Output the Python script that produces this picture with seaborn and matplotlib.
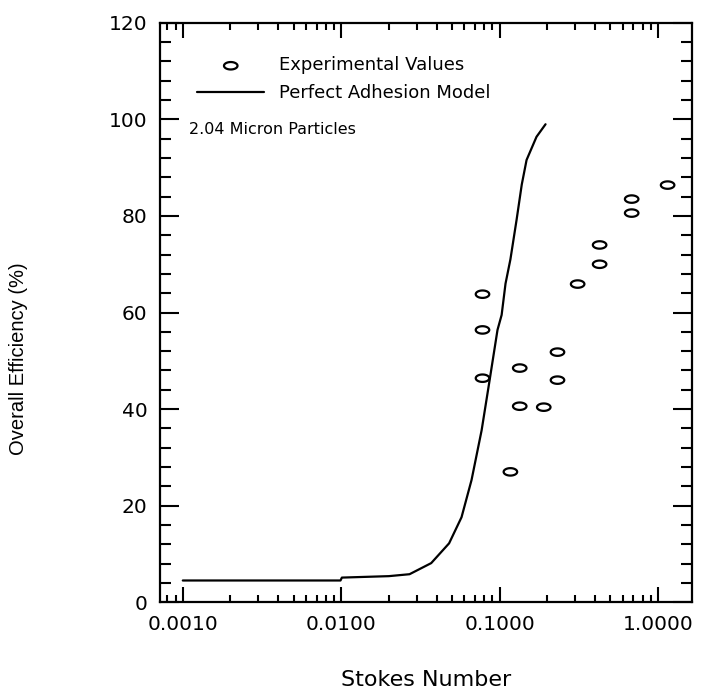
import numpy as np
import matplotlib
matplotlib.use("Agg")
import matplotlib.pyplot as plt
from matplotlib.path import Path
from matplotlib.ticker import FixedLocator, LogLocator, MultipleLocator, NullFormatter
import seaborn as sns


# Perfect adhesion model curve
model_stokes = [0.001, 0.0099, 0.0101, 0.02, 0.027, 0.037, 0.048, 0.0575, 0.0665,
                0.077, 0.0865, 0.097, 0.103, 0.109, 0.117, 0.128, 0.138, 0.148,
                0.171, 0.195]
model_eff = [4.5, 4.5, 5.1, 5.4, 5.8, 8.1, 12.2, 17.6, 25.3,
             35.6, 46.0, 56.4, 59.5, 66.0, 71.0, 79.2, 86.5, 91.6,
             96.4, 99.0]

# Experimental values
exp_stokes = [0.078, 0.078, 0.078, 0.117, 0.134, 0.134, 0.190, 0.232, 0.232,
              0.311, 0.428, 0.428, 0.682, 0.682, 1.15]
exp_eff = [63.8, 56.4, 46.4, 27.0, 48.5, 40.6, 40.4, 51.8, 46.0,
           65.9, 74.0, 70.0, 83.5, 80.6, 86.4]

xtick_vals = [0.001, 0.01, 0.1, 1.0]
xtick_labels = ["0.0010", "0.0100", "0.1000", "1.0000"]


sns.set_style("ticks", {"axes.edgecolor": "black", "text.color": "black",
                        "xtick.color": "black", "ytick.color": "black",
                        "axes.labelcolor": "black"})
plt.rcParams["font.family"] = ["DejaVu Sans"]

# flattened ellipse marker
t = np.linspace(0, 2 * np.pi, 40)
ellipse = Path(np.column_stack([np.cos(t), 0.55 * np.sin(t)]), closed=True)

fig = plt.figure(figsize=(7.04, 6.93), dpi=100)
ax = fig.add_axes([0.227, 0.131, 0.756, 0.836])

sns.lineplot(x=model_stokes, y=model_eff, ax=ax, color="black", linewidth=1.6,
             label="Perfect Adhesion Model", sort=False)
ax.scatter(exp_stokes, exp_eff, marker=ellipse, s=95, facecolors="none",
           edgecolors="black", linewidths=1.6, label="Experimental Values", zorder=3)

ax.set_xscale("log")
ax.set_xlim(0.000716, 1.64)
ax.set_ylim(0, 120)

ax.xaxis.set_major_locator(FixedLocator(xtick_vals))
ax.set_xticklabels(xtick_labels)
ax.xaxis.set_minor_locator(LogLocator(base=10, subs=np.arange(2, 10)))
ax.xaxis.set_minor_formatter(NullFormatter())
ax.yaxis.set_major_locator(MultipleLocator(20))
ax.yaxis.set_minor_locator(MultipleLocator(4))

ax.tick_params(which="both", direction="in", top=True, right=True,
               labelsize=14.5, width=1.5, pad=9, colors="black")
ax.tick_params(axis="x", which="major", length=11)
ax.tick_params(axis="x", which="minor", length=5)
ax.tick_params(axis="y", which="major", length=14)
ax.tick_params(axis="y", which="minor", length=8)
for sp in ax.spines.values():
    sp.set_linewidth(1.6)
    sp.set_color("black")

ax.set_xlabel("Stokes Number", fontsize=16, labelpad=26)
ax.set_ylabel("Overall Efficiency (%)", fontsize=14.5, family="Liberation Sans")
ax.yaxis.set_label_coords(-0.248, 0.42)

handles, labels = ax.get_legend_handles_labels()
order = [labels.index("Experimental Values"), labels.index("Perfect Adhesion Model")]
ax.legend([handles[i] for i in order], [labels[i] for i in order],
          loc="upper left", bbox_to_anchor=(0.04, 0.97), frameon=False,
          fontsize=13, handlelength=3.7, handletextpad=0.8, labelspacing=0.55)

ax.text(0.055, 0.816, "2.04 Micron Particles", transform=ax.transAxes,
        fontsize=11.5, va="center", ha="left")

fig.savefig("out.png", dpi=100)
